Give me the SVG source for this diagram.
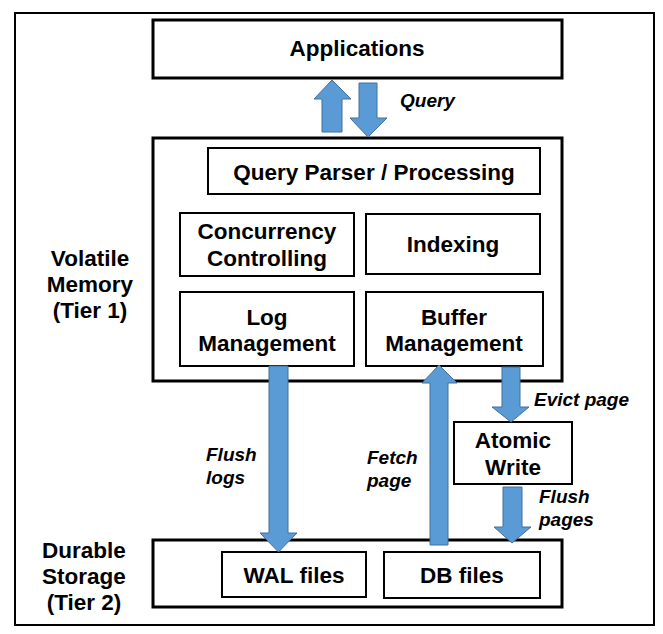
<svg xmlns="http://www.w3.org/2000/svg" width="663" height="634" viewBox="0 0 663 634">
<style>
.frame{fill:none;stroke:#000;stroke-width:2}
.big{fill:#fff;stroke:#000;stroke-width:3}
.box{fill:#fff;stroke:#000;stroke-width:2}
.t{font-family:"Liberation Sans",Arial,sans-serif;font-weight:bold;font-size:22.5px;fill:#000;text-anchor:middle}
.side{font-family:"Liberation Sans",Arial,sans-serif;font-weight:bold;font-size:22.5px;fill:#000;text-anchor:middle}
.lbl{font-family:"Liberation Sans",Arial,sans-serif;font-weight:bold;font-style:italic;font-size:19px;fill:#000}
.arr{fill:#5B9BD5;stroke:#41719C;stroke-width:1}
</style>
<rect width="663" height="634" fill="#fff"/>
<rect class="frame" x="15" y="13" width="639" height="612"/>
<g id="side-labels">
<text class="side" x="90" y="266">Volatile</text>
<text class="side" x="90" y="292">Memory</text>
<text class="side" x="90" y="318">(Tier 1)</text>
<text class="side" x="84" y="558">Durable</text>
<text class="side" x="84" y="584">Storage</text>
<text class="side" x="84" y="610">(Tier 2)</text>
</g>
<g id="applications">
<rect class="big" x="153" y="20" width="409" height="58"/>
<text class="t" x="357" y="56">Applications</text>
</g>
<g id="volatile-memory">
<rect class="big" x="153" y="138" width="409" height="243"/>
</g>
<g id="query-parser">
<rect class="box" x="208" y="148" width="332" height="46"/>
<text class="t" x="374" y="180">Query Parser / Processing</text>
</g>
<g id="concurrency">
<rect class="box" x="180" y="213" width="174" height="63"/>
<text class="t" x="267" y="239">Concurrency</text>
<text class="t" x="267" y="266">Controlling</text>
</g>
<g id="indexing">
<rect class="box" x="366" y="214" width="174" height="60"/>
<text class="t" x="453" y="252">Indexing</text>
</g>
<g id="log-management">
<rect class="box" x="180" y="292" width="174" height="74"/>
<text class="t" x="267" y="325">Log</text>
<text class="t" x="267" y="351">Management</text>
</g>
<g id="buffer-management">
<rect class="box" x="366" y="292" width="177" height="74"/>
<text class="t" x="454" y="325">Buffer</text>
<text class="t" x="454" y="351">Management</text>
</g>
<g id="atomic-write">
<rect class="box" x="454" y="422" width="118" height="62"/>
<text class="t" x="513" y="448">Atomic</text>
<text class="t" x="513" y="475">Write</text>
</g>
<g id="durable-storage">
<rect class="big" x="153" y="540" width="409" height="67"/>
</g>
<g id="wal-files">
<rect class="box" x="222" y="552" width="144" height="45"/>
<text class="t" x="294" y="583">WAL files</text>
</g>
<g id="db-files">
<rect class="box" x="384" y="552" width="156" height="46"/>
<text class="t" x="462" y="583">DB files</text>
</g>
<g id="connectors">
<polygon class="arr" points="322,132 342,132 342,99 351,99 332,80 314,99 322,99"/>
<polygon class="arr" points="359,83 377,83 377,118 387,118 368,137 350,118 359,118"/>
<polygon class="arr" points="269,366 288,366 288,533 297,533 278.5,552 260,533 269,533"/>
<polygon class="arr" points="430,545 448,545 448,383 457,383 439,365 422,383 430,383"/>
<polygon class="arr" points="502,367 520,367 520,407 529,407 511,422 492,407 502,407"/>
<polygon class="arr" points="503,487 522,487 522,527 531,527 512,543 494,527 503,527"/>
<text class="lbl" x="400" y="107">Query</text>
<text class="lbl" x="206" y="461">Flush</text>
<text class="lbl" x="206" y="484">logs</text>
<text class="lbl" x="367" y="464">Fetch</text>
<text class="lbl" x="367" y="487">page</text>
<text class="lbl" x="534" y="406">Evict page</text>
<text class="lbl" x="539" y="503">Flush</text>
<text class="lbl" x="539" y="526">pages</text>
</g>
</svg>
